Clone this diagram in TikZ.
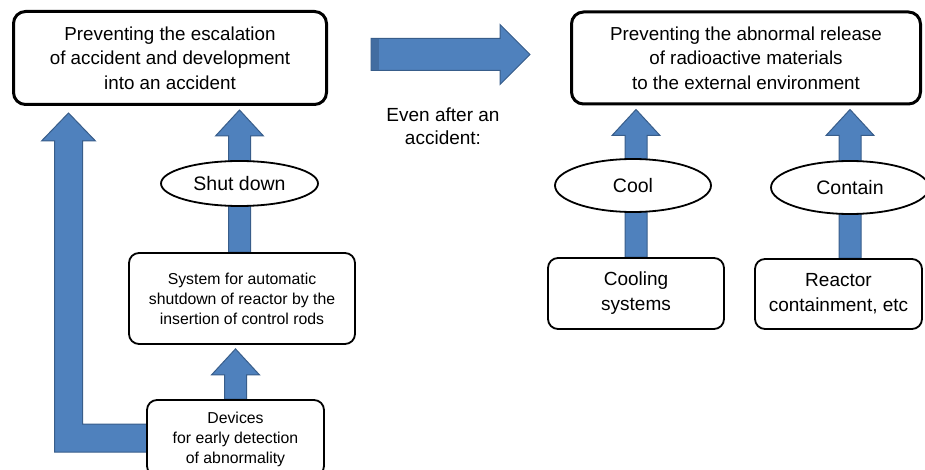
\documentclass[tikz,border=0pt]{standalone}
\usepackage{fontspec}
\setmainfont{Liberation Sans}
\usetikzlibrary{shapes.geometric, calc}
\definecolor{arrowfill}{RGB}{79,129,189}
\definecolor{arrowedge}{RGB}{56,93,138}
\pgfdeclarelayer{background}
\pgfsetlayers{background,main}
\tikzstyle{bigbox} = [rectangle, rounded corners=12pt, line width=3pt, draw=black, fill=white, align=center, inner sep=0pt, font=\fontsize{18.8}{24.5}\selectfont]
\tikzstyle{smallbox} = [rectangle, rounded corners=10pt, line width=1.8pt, draw=black, fill=white, align=center, inner sep=0pt, font=\fontsize{15.8}{20}\selectfont]
\tikzstyle{midbox} = [smallbox, font=\fontsize{19}{25}\selectfont]
\tikzstyle{action} = [ellipse, line width=1.8pt, draw=black, fill=white, inner sep=0pt, font=\fontsize{19.5}{23}\selectfont]
\tikzstyle{fat} = [fill=arrowfill, draw=arrowedge, line width=1pt, line join=miter]
% block arrow pointing up: #1 = foot, #2 = box it points at
\newcommand{\fatup}[2]{%
  \filldraw[fat] let \p1=(#1), \p2=(#2) in
    (\x1-11pt,\y1) -- (\x1-11pt,\y2-30pt) -- (\x1-24pt,\y2-30pt) -- (\x1,\y2-4pt)
    -- (\x1+24pt,\y2-30pt) -- (\x1+11pt,\y2-30pt) -- (\x1+11pt,\y1) -- cycle;}

\begin{document}
\begin{tikzpicture}[x=1pt, y=-1pt]
        \useasboundingbox (0,0) rectangle (925,470);
        % left side
        \node (topleft) [bigbox, minimum width=313pt, minimum height=93pt] at (170,58) {Preventing the escalation\\of accident and development\\into an accident};
        \node (system) [smallbox, minimum width=226pt, minimum height=91pt] at (242,298.5) {System for automatic\\shutdown of reactor by the\\insertion of control rods};
        \node (devices) [smallbox, minimum width=177pt, minimum height=76pt, text depth=0pt] at (235.5,438) {Devices\\for early detection\\of abnormality};
        \node (shutdown) [action, minimum width=157pt, minimum height=45pt] at (239.5,183.5) {Shut down};
        \coordinate (bend) at (68.5,439);
        % right side
        \node (topright) [bigbox, minimum width=349pt, minimum height=92pt] at (746,58) {Preventing the abnormal release\\of radioactive materials\\to the external environment};
        \node (cooling) [midbox, minimum width=176pt, minimum height=71pt] at (636,293.5) {Cooling\\systems};
        \node (reactor) [midbox, minimum width=167pt, minimum height=70pt] at (838.5,294) {Reactor\\containment, etc};
        \node (cool) [action, minimum width=156pt, minimum height=53pt] at (633,185.5) {Cool};
        \node (contain) [action, minimum width=158pt, minimum height=53pt] at (850,187.5) {Contain};
        % middle
        \coordinate (gostart) at (371,54.5);
        \coordinate (goend) at (530,54.5);
        \node (after) [align=center, font=\fontsize{19}{23}\selectfont] at (443,126.5) {Even after an\\accident:};
        \begin{pgfonlayer}{background}
        \fatup{devices.north}{devices.north |- system.south}
        \fatup{shutdown |- system.north}{shutdown |- topleft.south}
        \fatup{cooling.north}{cooling.north |- topright.south}
        \fatup{contain |- reactor.north}{contain |- topright.south}
        \filldraw[fat] let \p1=(devices.west), \p2=(bend), \p3=(topleft.south) in
            (\x1+4pt,\y1+14pt) -- (\x2+14pt,\y1+14pt) -- (\x2+14pt,\y3-35pt) -- (\x2+27pt,\y3-35pt)
            -- (\x2,\y3-7pt) -- (\x2-27pt,\y3-35pt) -- (\x2-14pt,\y3-35pt) -- (\x2-14pt,\y1-14pt)
            -- (\x1+4pt,\y1-14pt) -- cycle;
        \filldraw[fat] let \p1=(gostart), \p2=(goend) in
            (\x1,\y1+16pt) -- (\x2-30pt,\y1+16pt) -- (\x2-30pt,\y1+30pt) -- (\x2,\y1)
            -- (\x2-30pt,\y1-30pt) -- (\x2-30pt,\y1-16pt) -- (\x1,\y1-16pt) -- cycle;
        \fill[arrowedge!55!arrowfill] ($(gostart)+(0.5,-15.5)$) rectangle ($(gostart)+(8,15.5)$);
        \end{pgfonlayer}
    \end{tikzpicture}
\end{document}
